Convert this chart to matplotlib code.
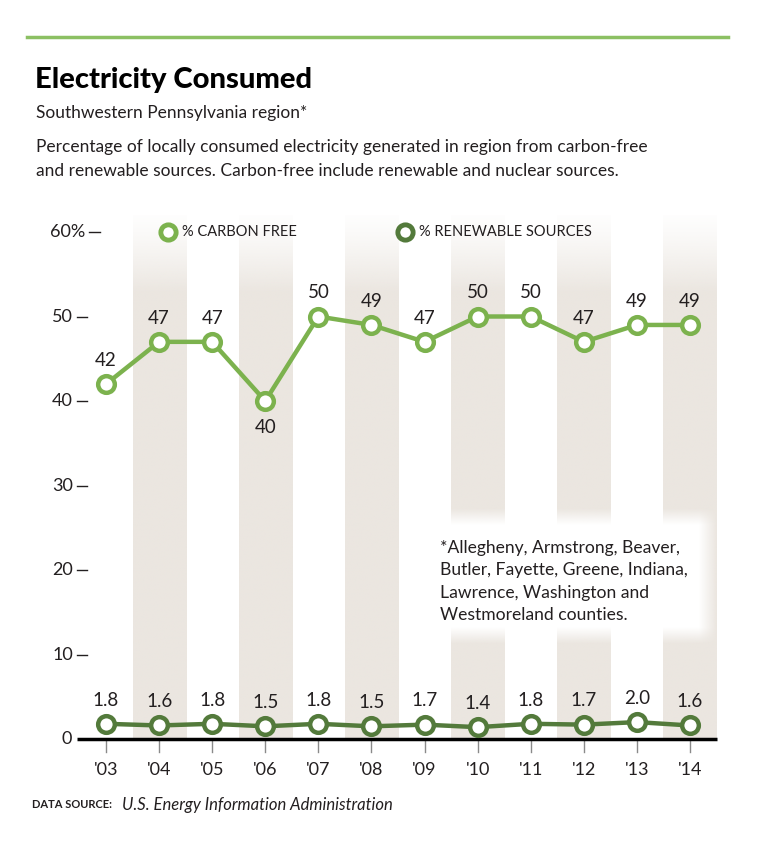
import numpy as np
import matplotlib
matplotlib.use("Agg")
from matplotlib import pyplot as plt

# data
years = ["'03", "'04", "'05", "'06", "'07", "'08", "'09", "'10", "'11", "'12", "'13", "'14"]
carbon_free = [42, 47, 47, 40, 50, 49, 47, 50, 50, 47, 49, 49]
renewable = [1.8, 1.6, 1.8, 1.5, 1.8, 1.5, 1.7, 1.4, 1.8, 1.7, 2.0, 1.6]
yticks = [0, 10, 20, 30, 40, 50, 60]

light_green = '#7cb24e'
dark_green = '#537a3b'
band_color = np.array([235, 230, 224]) / 255.0
txt = '#231f20'

plt.rcParams['font.family'] = ['Lato', 'DejaVu Sans']

W, H = 768, 842
fig = plt.figure(figsize=(W / 100, H / 100), dpi=100)

def px(x, y):
    return x / W, 1 - y / H

# top rule and header text
fig.add_artist(plt.Line2D([27 / W, 728 / W], [1 - 37 / H] * 2, color='#8cc063', lw=2.5))
fig.text(*px(35, 80), 'Electricity Consumed', fontsize=21, fontweight='black',
         color='black', va='center', ha='left')
fig.text(*px(36, 113), 'Southwestern Pennsylvania region*', fontsize=12.5,
         color=txt, va='center', ha='left')
fig.text(*px(36, 147), 'Percentage of locally consumed electricity generated in region from carbon-free',
         fontsize=12.5, color=txt, va='center', ha='left')
fig.text(*px(36, 171), 'and renewable sources. Carbon-free include renewable and nuclear sources.',
         fontsize=12.5, color=txt, va='center', ha='left')

# axes: x index -0.55..11.5 spans px 77..717, y 0..60 spans px 739..232
x0, x1 = -0.55, 11.5
sx = (690 - 106) / 11
left_px = 106 + x0 * sx
right_px = 106 + x1 * sx
ytop_val = 62
ppu = (739 - 232) / 60
top_px = 739 - ytop_val * ppu
ax = fig.add_axes([left_px / W, 1 - 739 / H, (right_px - left_px) / W, (739 - top_px) / H])
ax.axis('off')

x = np.arange(len(years))

# shaded bands with a fade toward the top
grad = np.ones((300, 1, 4))
grad[:, 0, :3] = band_color
t = np.linspace(0, 1, 300)
grad[:, 0, 3] = np.clip(t / 0.16, 0, 1) ** 1.3
for i in x[1::2]:
    ax.imshow(grad, extent=(i - 0.5, i + 0.5, 0, ytop_val + 1), aspect='auto',
              zorder=0, interpolation='bilinear')

# footnote white box with soft edges
nx, ny = 300, 150
bx = np.minimum(np.clip(np.linspace(0, 1, nx) / 0.05, 0, 1), np.clip((1 - np.linspace(0, 1, nx)) / 0.06, 0, 1))
by = np.minimum(np.clip(np.linspace(0, 1, ny) / 0.12, 0, 1), np.clip((1 - np.linspace(0, 1, ny)) / 0.12, 0, 1))
box = np.ones((ny, nx, 4))
box[:, :, 3] = np.outer(by, bx)
ax.imshow(box, extent=(6.0, 11.5, 11.3, 27.3), aspect='auto', zorder=1,
          interpolation='bilinear')
ax.text(6.3, 23.6, '*Allegheny, Armstrong, Beaver,\nButler, Fayette, Greene, Indiana,\n'
        'Lawrence, Washington and\nWestmoreland counties.', fontsize=12.6, color=txt,
        va='top', ha='left', linespacing=1.5, zorder=2)

# lines
ax.plot(x, carbon_free, color=light_green, lw=3.2, marker='o', ms=12,
        mfc='white', mec=light_green, mew=3.2, zorder=4, clip_on=False)
ax.plot(x, renewable, color=dark_green, lw=3.2, marker='o', ms=12,
        mfc='white', mec=dark_green, mew=3.2, zorder=4, clip_on=False)

for xi, v in zip(x, carbon_free):
    if xi == 3:
        ax.annotate(f'{v}', (xi, v), xytext=(0, -13), textcoords='offset points',
                    ha='center', va='top', fontsize=13.5, color=txt, zorder=5)
    else:
        ax.annotate(f'{v}', (xi, v), xytext=(0, 11), textcoords='offset points',
                    ha='center', va='bottom', fontsize=13.5, color=txt, zorder=5)
for xi, v in zip(x, renewable):
    ax.annotate(f'{v:.1f}', (xi, v), xytext=(0, 11), textcoords='offset points',
                ha='center', va='bottom', fontsize=13.5, color=txt, zorder=5)

# baseline axis
ax.plot([x0, x1], [0, 0], color='black', lw=2.5, zorder=3, clip_on=False,
        solid_capstyle='butt')

# x ticks and labels
for xi, lab in zip(x, years):
    ax.plot([xi, xi], [0, -13 / ppu], color='#8a8a8a', lw=1, clip_on=False)
    ax.text(xi, -31 / ppu, lab, ha='center', va='center', fontsize=13, color=txt)

# y labels with dashes
for tk in yticks:
    if tk == 0:
        ax.text(x0 - 5 / sx, tk, '0', ha='right', va='center', fontsize=13, color=txt)
    elif tk == 60:
        ax.text(x0 + 8 / sx, tk, '60%', ha='right', va='center', fontsize=13, color=txt)
        ax.plot([x0 + 12 / sx, x0 + 23 / sx], [tk, tk], color=txt, lw=1, clip_on=False)
    else:
        ax.text(x0 - 4 / sx, tk, f'{tk}', ha='right', va='center', fontsize=13, color=txt)
        ax.plot([x0 + 0 / sx, x0 + 10 / sx], [tk, tk], color=txt, lw=1, clip_on=False)

# legend
leg_y = 60
for lx, col, lab in [(1.16, light_green, '% CARBON FREE'), (5.63, dark_green, '% RENEWABLE SOURCES')]:
    ax.plot([lx], [leg_y], marker='o', ms=11, mfc='white', mec=col, mew=3.5,
            zorder=5, clip_on=False)
    ax.text(lx + 14 / sx, leg_y, lab, ha='left', va='center', fontsize=10.5,
            color=txt, zorder=5)

ax.set_xlim(x0, x1)
ax.set_ylim(0, ytop_val)

# source line
fig.text(*px(32, 805), 'DATA SOURCE:', fontsize=8, fontweight='bold', color=txt,
         va='center', ha='left')
fig.text(*px(122, 805), 'U.S. Energy Information Administration', fontsize=12,
         style='italic', color=txt, va='center', ha='left')

fig.savefig('out.png', dpi=100, facecolor='white')
